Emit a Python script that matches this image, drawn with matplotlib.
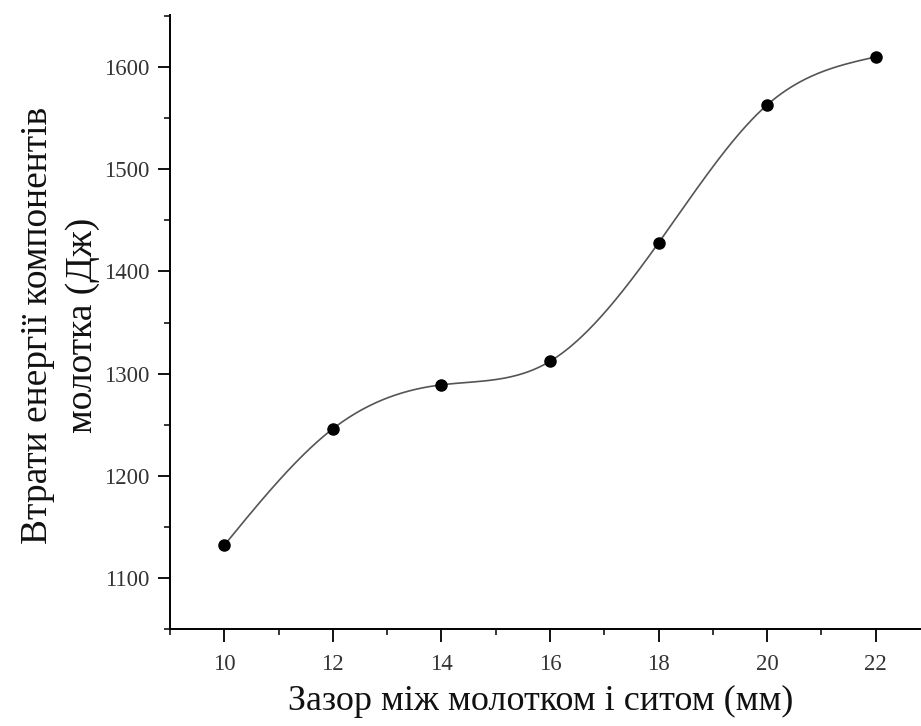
import numpy as np
import matplotlib
matplotlib.use("Agg")
import matplotlib.pyplot as plt
from matplotlib.ticker import MultipleLocator

gap_mm = [10, 12, 14, 16, 18, 20, 22]
energy_loss = [1132, 1246, 1289, 1312, 1428, 1563, 1610]
x_ticks = [10, 12, 14, 16, 18, 20, 22]
y_ticks = [1100, 1200, 1300, 1400, 1500, 1600]


def natural_spline(x, y, xs):
    x = np.asarray(x, float); y = np.asarray(y, float)
    n = len(x)
    h = np.diff(x)
    A = np.zeros((n, n)); b = np.zeros(n)
    A[0, 0] = 1; A[-1, -1] = 1
    for i in range(1, n - 1):
        A[i, i - 1] = h[i - 1]
        A[i, i] = 2 * (h[i - 1] + h[i])
        A[i, i + 1] = h[i]
        b[i] = 3 * ((y[i + 1] - y[i]) / h[i] - (y[i] - y[i - 1]) / h[i - 1])
    c = np.linalg.solve(A, b)
    out = np.empty_like(xs)
    for k, xv in enumerate(xs):
        i = min(max(np.searchsorted(x, xv) - 1, 0), n - 2)
        dx = xv - x[i]
        bi = (y[i + 1] - y[i]) / h[i] - h[i] * (2 * c[i] + c[i + 1]) / 3
        di = (c[i + 1] - c[i]) / (3 * h[i])
        out[k] = y[i] + bi * dx + c[i] * dx ** 2 + di * dx ** 3
    return out


plt.rcParams['font.family'] = ['Liberation Serif', 'DejaVu Serif']

W, H = 921, 726
fig = plt.figure(figsize=(W / 100, H / 100), dpi=100)
ax = fig.add_axes([170 / W, 1 - 629 / H, 760 / W, (629 - 15) / H])

xs = np.linspace(gap_mm[0], gap_mm[-1], 400)
ax.plot(xs, natural_spline(gap_mm, energy_loss, xs), color='#555555', lw=1.2)
ax.plot(gap_mm, energy_loss, 'o', color='black', markersize=8)

ax.set_xlim(9, 23)
ax.set_ylim(1050, 1651)
ax.set_xticks(x_ticks)
ax.set_yticks(y_ticks)
ax.xaxis.set_minor_locator(MultipleLocator(1))
ax.yaxis.set_minor_locator(MultipleLocator(50))
for s in ['top', 'right']:
    ax.spines[s].set_visible(False)
for s in ['left', 'bottom']:
    ax.spines[s].set_linewidth(1.4)
ax.tick_params(which='major', length=9, width=1.3, labelsize=16.5, labelcolor='#333333', pad=6)
ax.tick_params(axis='x', which='major', pad=9)
ax.tick_params(which='minor', length=4, width=1.1)

fig.text(541 / W, 1 - 701 / H, 'Зазор між молотком і ситом (мм)', fontsize=26,
         ha='center', va='center', color='#111111')
fig.text(60 / W, 1 - 325 / H, 'Втрати енергії компонентів\nмолотка (Дж)', fontsize=27,
         rotation=90, ha='center', va='center', linespacing=1.4, multialignment='center',
         color='#111111')

fig.savefig('out.png', dpi=100)
